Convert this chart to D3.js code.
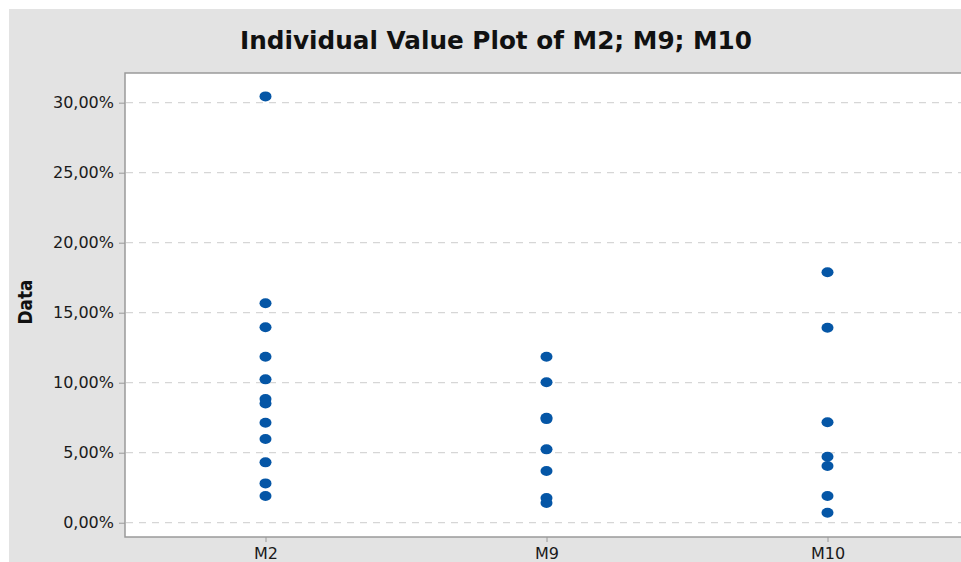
<!DOCTYPE html>
<html>
<head>
<meta charset="utf-8">
<script src="https://cdn.jsdelivr.net/npm/d3@7"></script>
<style>
  html, body { margin: 0; padding: 0; background: #fff; overflow: hidden; }
  svg { display: block; }
</style>
</head>
<body>
<div id="chart"></div>
<script>
// groups on the x axis
const categories = ['M2', 'M9', 'M10'];

// individual values per group (fractions)
const valuesM2 = [0.3045, 0.1567, 0.1396, 0.1186, 0.1024, 0.0883, 0.0851, 0.0714, 0.0598, 0.0431, 0.0281, 0.0191];
const valuesM9 = [0.1186, 0.1003, 0.0750, 0.0740, 0.0524, 0.0369, 0.0176, 0.0141];
const valuesM10 = [0.1789, 0.1393, 0.0717, 0.0471, 0.0405, 0.0191, 0.0071];

const yTicks = [0, 0.05, 0.10, 0.15, 0.20, 0.25, 0.30];

const width = 961, height = 562;
const frame = { left: 125, top: 73, bottom: 537 };

const seriesByCat = { M2: valuesM2, M9: valuesM9, M10: valuesM10 };
const points = [];
categories.forEach(c => seriesByCat[c].forEach(v => points.push({ cat: c, value: v })));

const svg = d3.select('#chart').append('svg')
    .attr('width', width)
    .attr('height', height);

// outer grey panel
svg.append('rect')
    .attr('x', 9).attr('y', 9)
    .attr('width', width).attr('height', height)
    .attr('fill', '#e3e3e3');

const x = d3.scalePoint()
    .domain(categories)
    .range([frame.left, frame.left + 281 * 3])
    .padding(0.5);

const y = d3.scaleLinear()
    .domain([-0.0102, 0.3212])
    .range([frame.bottom, frame.top]);

// plot area
svg.append('rect')
    .attr('x', frame.left).attr('y', frame.top)
    .attr('width', width).attr('height', frame.bottom - frame.top)
    .attr('fill', '#ffffff')
    .attr('stroke', '#9a9a9a')
    .attr('stroke-width', 1.5);

// dashed gridlines
svg.append('g')
    .selectAll('line')
    .data(yTicks)
    .enter()
    .append('line')
    .attr('x1', frame.left + 1).attr('x2', width)
    .attr('y1', d => y(d)).attr('y2', d => y(d))
    .attr('stroke', '#d6d6d6')
    .attr('stroke-width', 1.2)
    .attr('stroke-dasharray', '7,6');

const fmt = d => d3.format('.2f')(d * 100).replace('.', ',') + '%';

// y axis
const yAxis = svg.append('g')
    .attr('transform', `translate(${frame.left},0)`)
    .call(d3.axisLeft(y).tickValues(yTicks).tickFormat(fmt).tickSize(6).tickPadding(5));
yAxis.select('.domain').remove();
yAxis.selectAll('line').attr('stroke', '#9a9a9a');
yAxis.selectAll('text')
    .attr('font-family', 'DejaVu Sans, sans-serif')
    .attr('font-size', 16)
    .attr('fill', '#1a1a1a');

// x axis (labels sit right at the bottom edge, as in the original)
const xAxis = svg.append('g')
    .attr('transform', `translate(0,${frame.bottom})`)
    .call(d3.axisBottom(x).tickSize(5).tickPadding(6));
xAxis.select('.domain').remove();
xAxis.selectAll('line').attr('stroke', '#9a9a9a');
xAxis.selectAll('text')
    .attr('font-family', 'DejaVu Sans, sans-serif')
    .attr('font-size', 16)
    .attr('fill', '#1a1a1a');

// points
svg.append('g')
    .selectAll('ellipse')
    .data(points)
    .enter()
    .append('ellipse')
    .attr('cx', d => x(d.cat))
    .attr('cy', d => y(d.value))
    .attr('rx', 6)
    .attr('ry', 5)
    .attr('fill', '#0556a6');

// title
svg.append('text')
    .attr('x', 496).attr('y', 49)
    .attr('text-anchor', 'middle')
    .attr('font-family', 'DejaVu Sans, sans-serif')
    .attr('font-weight', 600)
    .attr('font-size', 24)
    .attr('textLength', 512)
    .attr('lengthAdjust', 'spacingAndGlyphs')
    .attr('fill', '#111')
    .text('Individual Value Plot of M2; M9; M10');

// y label
svg.append('text')
    .attr('transform', 'translate(32,302) rotate(-90)')
    .attr('text-anchor', 'middle')
    .attr('font-family', 'DejaVu Sans, sans-serif')
    .attr('font-weight', 'bold')
    .attr('font-size', 19)
    .attr('textLength', 45)
    .attr('lengthAdjust', 'spacingAndGlyphs')
    .attr('fill', '#111')
    .text('Data');
</script>
</body>
</html>
